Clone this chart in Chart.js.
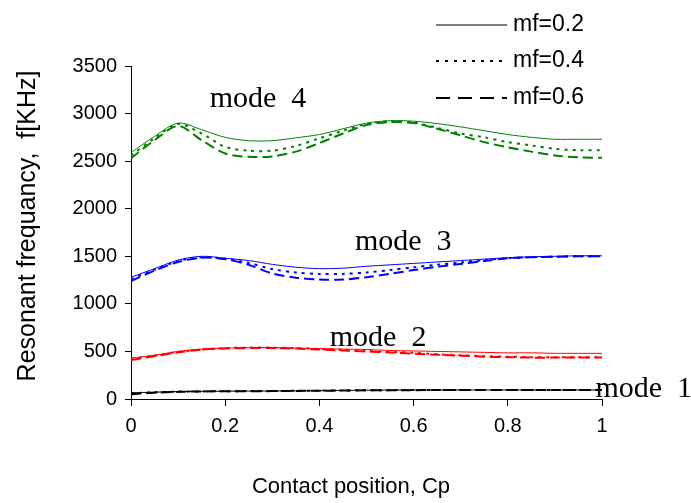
<!DOCTYPE html>
<html>
<head>
<meta charset="utf-8">
<script src="https://cdn.jsdelivr.net/npm/chart.js@4.4.0/dist/chart.umd.min.js"></script>
<style>
  html, body { margin: 0; padding: 0; background: #fff; }
  canvas { display: block; }
</style>
</head>
<body>
<canvas id="chart" width="691" height="503"></canvas>
<script>
// contact position Cp
const cp = [0, 0.05, 0.1, 0.15, 0.2, 0.25, 0.3, 0.35, 0.4, 0.45, 0.5,
            0.55, 0.6, 0.65, 0.7, 0.75, 0.8, 0.85, 0.9, 0.95, 1];

// mode 4 (green)
const mode4_mf02 = [2590, 2760, 2900, 2830, 2750, 2715, 2715, 2745, 2780, 2840, 2900,
                    2925, 2920, 2895, 2860, 2820, 2780, 2750, 2730, 2730, 2730];
const mode4_mf04 = [2560, 2740, 2890, 2790, 2650, 2610, 2610, 2660, 2740, 2820, 2890,
                    2920, 2905, 2850, 2790, 2750, 2700, 2665, 2630, 2615, 2615];
const mode4_mf06 = [2530, 2720, 2870, 2720, 2580, 2545, 2550, 2600, 2690, 2790, 2880,
                    2910, 2900, 2840, 2770, 2700, 2645, 2600, 2560, 2540, 2535];

// mode 3 (blue)
const mode3_mf02 = [1280, 1370, 1460, 1500, 1480, 1455, 1415, 1385, 1370, 1375, 1395,
                    1410, 1425, 1440, 1455, 1470, 1485, 1495, 1500, 1505, 1505];
const mode3_mf04 = [1260, 1360, 1450, 1490, 1475, 1430, 1365, 1330, 1315, 1315, 1330,
                    1355, 1385, 1410, 1435, 1460, 1480, 1490, 1495, 1500, 1500];
const mode3_mf06 = [1240, 1350, 1440, 1485, 1470, 1410, 1320, 1275, 1255, 1255, 1280,
                    1315, 1355, 1390, 1420, 1450, 1480, 1490, 1495, 1500, 1500];

// mode 2 (red)
const mode2_mf02 = [430, 460, 500, 525, 535, 540, 540, 535, 530, 525, 520,
                    510, 505, 500, 495, 490, 485, 485, 480, 480, 480];
const mode2_mf04 = [420, 455, 495, 520, 535, 540, 540, 535, 525, 515, 505,
                    495, 485, 470, 460, 450, 445, 440, 440, 440, 440];
const mode2_mf06 = [410, 450, 490, 520, 530, 535, 535, 530, 520, 510, 500,
                    490, 475, 465, 455, 445, 440, 435, 435, 435, 435];

// mode 1 (black)
const mode1_mf02 = [65, 72, 78, 80, 82, 83, 84, 86, 88, 90, 92,
                    93, 94, 94, 95, 95, 95, 95, 95, 95, 95];
const mode1_mf04 = [60, 70, 77, 80, 82, 83, 84, 86, 88, 90, 92,
                    93, 94, 94, 95, 95, 95, 95, 95, 95, 95];
const mode1_mf06 = [50, 65, 75, 79, 81, 82, 83, 85, 87, 89, 91,
                    92, 93, 94, 94, 95, 95, 95, 95, 95, 95];

const legendLabels = ['mf=0.2', 'mf=0.4', 'mf=0.6'];
const modeLabels = [
    { text: 'mode  4', cp: 0.167, f: 3072 },
    { text: 'mode  3', cp: 0.4755, f: 1566 },
    { text: 'mode  2', cp: 0.422, f: 557 },
    { text: 'mode  1', cp: 0.986, f: 21 }
];

// line styles per mf value
const styles = [
    { borderWidth: 1, borderDash: [] },
    { borderWidth: 2, borderDash: [3, 5] },
    { borderWidth: 2, borderDash: [10, 5] }
];

function makeSet(values, color, styleIdx) {
    return {
        data: values.map((v, i) => ({ x: cp[i], y: v })),
        borderColor: color,
        borderWidth: styles[styleIdx].borderWidth,
        borderDash: styles[styleIdx].borderDash,
        pointRadius: 0,
        fill: false,
        tension: 0.3
    };
}

const datasets = [
    makeSet(mode4_mf02, '#008000', 0), makeSet(mode4_mf04, '#008000', 1), makeSet(mode4_mf06, '#008000', 2),
    makeSet(mode3_mf02, '#0000ff', 0), makeSet(mode3_mf04, '#0000ff', 1), makeSet(mode3_mf06, '#0000ff', 2),
    makeSet(mode2_mf02, '#ff0000', 0), makeSet(mode2_mf04, '#ff0000', 1), makeSet(mode2_mf06, '#ff0000', 2),
    makeSet(mode1_mf02, '#000000', 0), makeSet(mode1_mf04, '#000000', 1), makeSet(mode1_mf06, '#000000', 2)
];

// legend, mode labels and axis titles
const textPlugin = {
    id: 'textPlugin',
    afterDraw(chart) {
        const ctx = chart.ctx;
        const xs = chart.scales.x;
        const ys = chart.scales.y;
        ctx.save();

        // legend
        const rowY = [25, 61, 98];
        ctx.font = '23px "Liberation Sans", Arial, sans-serif';
        ctx.textBaseline = 'middle';
        ctx.fillStyle = '#000';
        legendLabels.forEach((label, i) => {
            ctx.beginPath();
            ctx.strokeStyle = '#000';
            ctx.lineWidth = styles[i].borderWidth;
            ctx.setLineDash(i === 1 ? [3, 6] : i === 2 ? [14, 8] : []);
            ctx.moveTo(436, rowY[i]);
            ctx.lineTo(507, rowY[i]);
            ctx.stroke();
            ctx.fillText(label, 513, rowY[i]);
        });
        ctx.setLineDash([]);

        // mode labels
        ctx.font = '30px "Liberation Serif", "Times New Roman", serif';
        ctx.textBaseline = 'alphabetic';
        modeLabels.forEach(m => {
            ctx.fillText(m.text, xs.getPixelForValue(m.cp), ys.getPixelForValue(m.f));
        });

        // axis titles
        ctx.font = '22px "Liberation Sans", Arial, sans-serif';
        ctx.textAlign = 'center';
        ctx.textBaseline = 'middle';
        ctx.fillText('Contact position, Cp', 351, 487);
        ctx.font = '25px "Liberation Sans", Arial, sans-serif';
        ctx.translate(28, 226);
        ctx.rotate(-Math.PI / 2);
        ctx.fillText('Resonant frequancy,  f[KHz]', 0, 0);
        ctx.restore();
    }
};

new Chart(document.getElementById('chart'), {
    type: 'line',
    data: { datasets: datasets },
    options: {
        responsive: false,
        animation: false,
        layout: { padding: { left: 0, right: 89, top: 66, bottom: 0 } },
        plugins: { legend: { display: false }, tooltip: { enabled: false } },
        scales: {
            x: {
                type: 'linear',
                min: 0,
                max: 1,
                afterFit(scale) { scale.height = 104; },
                border: { color: '#000', width: 1 },
                grid: { drawOnChartArea: false, drawTicks: true, tickLength: 7, color: '#000' },
                ticks: {
                    stepSize: 0.2,
                    color: '#000',
                    padding: 8,
                    maxRotation: 0,
                    callback: v => String(Math.round(v * 10) / 10),
                    font: { family: '"Liberation Sans", Arial, sans-serif', size: 20 }
                }
            },
            y: {
                min: 0,
                max: 3500,
                afterFit(scale) { scale.width = 131; },
                border: { color: '#000', width: 1 },
                grid: { drawOnChartArea: false, drawTicks: true, tickLength: 6, color: '#000' },
                ticks: {
                    stepSize: 500,
                    color: '#000',
                    padding: 8,
                    callback: v => String(v),
                    font: { family: '"Liberation Sans", Arial, sans-serif', size: 20 }
                }
            }
        }
    },
    plugins: [textPlugin]
});
</script>
</body>
</html>
